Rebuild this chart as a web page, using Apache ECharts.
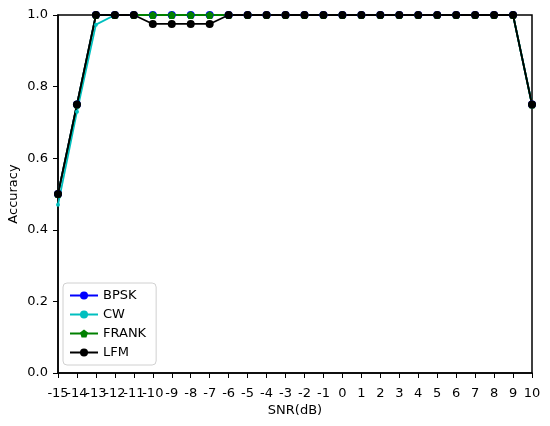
<!DOCTYPE html>
<html>
<head>
<meta charset="utf-8">
<script src="https://cdn.jsdelivr.net/npm/echarts@6/dist/echarts.min.js"></script>
<style>
  html, body { margin: 0; padding: 0; background: #fff; }
  #container { width: 550px; height: 426px; }
</style>
</head>
<body>
<div id="container"></div>
<script>
const snr = ['-15', '-14', '-13', '-12', '-11', '-10', '-9', '-8', '-7', '-6', '-5', '-4', '-3',
  '-2', '-1', '0', '1', '2', '3', '4', '5', '6', '7', '8', '9', '10']
const bpsk = [0.5, 0.75, 1, 1, 1, 1, 1, 1, 1, 1, 1, 1, 1, 1, 1, 1, 1, 1, 1, 1, 1, 1, 1, 1, 1, 0.75]
const cw = [0.47, 0.73, 0.973, 1, 1, 1, 1, 1, 1, 1, 1, 1, 1, 1, 1, 1, 1, 1, 1, 1, 1, 1, 1, 1, 1, 0.75]
const frank = [0.5, 0.75, 1, 1, 1, 1, 1, 1, 1, 1, 1, 1, 1, 1, 1, 1, 1, 1, 1, 1, 1, 1, 1, 1, 1, 0.75]
const lfm = [0.5, 0.75, 1, 1, 1, 0.975, 0.975, 0.975, 0.975, 1, 1, 1, 1, 1, 1, 1, 1, 1, 1, 1, 1, 1, 1, 1, 1, 0.75]
const yTicks = [0, 0.2, 0.4, 0.6, 0.8, 1.0]

const font = 'DejaVu Sans'
const pentagon = 'path://M0,-10 L9.51,-3.09 L5.88,8.09 L-5.88,8.09 L-9.51,-3.09 Z'

const line = (name, data, color, symbol, size) => ({
  name,
  type: 'line',
  data,
  symbol,
  symbolSize: size,
  showSymbol: true,
  itemStyle: { color, borderWidth: 0 },
  lineStyle: { color, width: 1.8 },
  emphasis: { disabled: true },
  animation: false,
  clip: false
})

const chart = echarts.init(document.getElementById('container'), null, { renderer: 'canvas' })
chart.setOption({
  animation: false,
  textStyle: { fontFamily: font },
  grid: {
    left: 58, right: 18, top: 15, bottom: 53,
    outerBoundsMode: 'none',
    containLabel: false,
    show: true, borderColor: '#000', borderWidth: 1.5, backgroundColor: 'transparent'
  },
  legend: {
    orient: 'vertical',
    left: 63, top: 283,
    itemWidth: 28, itemHeight: 10, itemGap: 6,
    padding: [6, 10, 6, 6],
    borderColor: '#d0d0d0', borderWidth: 1, borderRadius: 4,
    backgroundColor: 'rgba(255,255,255,0.8)',
    textStyle: { fontFamily: font, fontSize: 13, color: '#000' },
    data: ['BPSK', 'CW', 'FRANK', 'LFM']
  },
  xAxis: {
    type: 'category',
    data: snr,
    boundaryGap: false,
    name: 'SNR(dB)',
    nameLocation: 'middle',
    nameGap: 31,
    nameMoveOverlap: false,
    nameTextStyle: { fontFamily: font, fontSize: 13, color: '#000' },
    axisLine: { lineStyle: { color: '#000', width: 1.5 } },
    axisTick: { show: true, interval: 0, length: 5, lineStyle: { color: '#000' } },
    axisLabel: { interval: 0, fontFamily: font, fontSize: 13, color: '#000', margin: 14 },
    splitLine: { show: false }
  },
  yAxis: {
    type: 'value',
    min: 0, max: 1, interval: 0.2,
    name: 'Accuracy',
    nameLocation: 'middle',
    nameGap: 38,
    nameMoveOverlap: false,
    nameTextStyle: { fontFamily: font, fontSize: 13, color: '#000' },
    axisLine: { show: true, lineStyle: { color: '#000', width: 1.5 } },
    axisTick: { show: true, length: 5, lineStyle: { color: '#000' } },
    axisLabel: {
      fontFamily: font, fontSize: 13, color: '#000', margin: 10,
      formatter: v => yTicks.find(t => Math.abs(t - v) < 1e-9).toFixed(1)
    },
    splitLine: { show: false }
  },
  series: [
    line('BPSK', bpsk, '#0000ff', 'circle', 8),
    line('CW', cw, '#00bfbf', 'circle', 4),
    line('FRANK', frank, '#008000', pentagon, 8),
    line('LFM', lfm, '#000000', 'circle', 8)
  ]
})
</script>
</body>
</html>
